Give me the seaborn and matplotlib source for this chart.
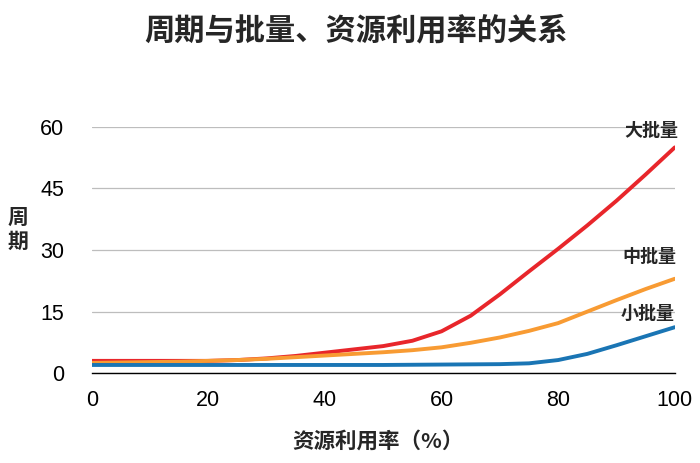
import matplotlib
matplotlib.use("Agg")
import matplotlib.pyplot as plt
import seaborn as sns
import pandas as pd

x = [0, 5, 10, 15, 20, 25, 30, 35, 40, 45, 50, 55, 60, 65, 70, 75, 80, 85, 90, 95, 100]
large = [3, 3, 3, 3, 3, 3.2, 3.6, 4.2, 5, 5.8, 6.6, 7.9, 10.2, 14, 19.2, 24.8, 30.3, 36, 42, 48.4, 55]
medium = [2.5, 2.6, 2.7, 2.8, 3, 3.2, 3.5, 3.9, 4.3, 4.7, 5.1, 5.6, 6.3, 7.4, 8.7, 10.3, 12.2, 15, 17.8, 20.5, 23]
small = [2, 2, 2, 2, 2, 2, 2, 2, 2, 2, 2, 2.05, 2.1, 2.15, 2.2, 2.4, 3.2, 4.7, 6.8, 9, 11.2]
series_names = ["大批量", "中批量", "小批量"]
colors = ["#E8262B", "#F89B33", "#1A75B4"]
yticks = [0, 15, 30, 45, 60]
xticks = [0, 20, 40, 60, 80, 100]

sns.set_theme(style="white")
plt.rcParams['font.family'] = ['Liberation Sans', 'Noto Sans CJK SC', 'DejaVu Sans']
cjk = ['Noto Sans CJK SC', 'DejaVu Sans']

df = pd.DataFrame({"x": x * 3,
                   "y": large + medium + small,
                   "s": [series_names[0]] * len(x) + [series_names[1]] * len(x) + [series_names[2]] * len(x)})

fig = plt.figure(figsize=(7, 4.63), dpi=100)
ax = fig.add_axes([0.131, 0.194, 0.833, 0.532])
sns.lineplot(data=df, x="x", y="y", hue="s", palette=dict(zip(series_names, colors)),
             linewidth=2.8, legend=False, ax=ax)
for ln in ax.lines:
    ln.set_solid_joinstyle("round")
    ln.set_solid_capstyle("round")
ax.set_xlim(0, 100)
ax.set_ylim(0, 60)
ax.set_yticks(yticks)
ax.set_xticks(xticks)
ax.yaxis.grid(True, color="#BDBDBD", linewidth=0.9)
ax.set_axisbelow(True)
for s in ["left", "right", "top"]:
    ax.spines[s].set_visible(False)
ax.spines["bottom"].set_color("black")
ax.spines["bottom"].set_linewidth(1.0)
ax.tick_params(axis="both", length=0, labelsize=15.5, colors="black")
ax.tick_params(axis="x", pad=12)
ax.tick_params(axis="y", pad=20)
ax.set_xlabel("")
ax.set_ylabel("")

fig.text(0.509, 0.935, "周期与批量、资源利用率的关系", ha="center", va="center",
         fontsize=21.8, fontweight="bold", family=cjk)
fig.text(0.54, 0.047, "资源利用率（%）", ha="center", va="center",
         fontsize=15.5, fontweight="bold", family=cjk)
fig.text(0.025, 0.504, "周\n期", ha="center", va="center", fontsize=15,
         fontweight="bold", family=cjk, linespacing=1.2)

label_pos = [(0.931, 0.718), (0.928, 0.447), (0.925, 0.322)]
for name, (lx, ly) in zip(series_names, label_pos):
    fig.text(lx, ly, name, ha="center", va="center", fontsize=13,
             fontweight="bold", family=cjk)

fig.savefig("out.png", dpi=100)
